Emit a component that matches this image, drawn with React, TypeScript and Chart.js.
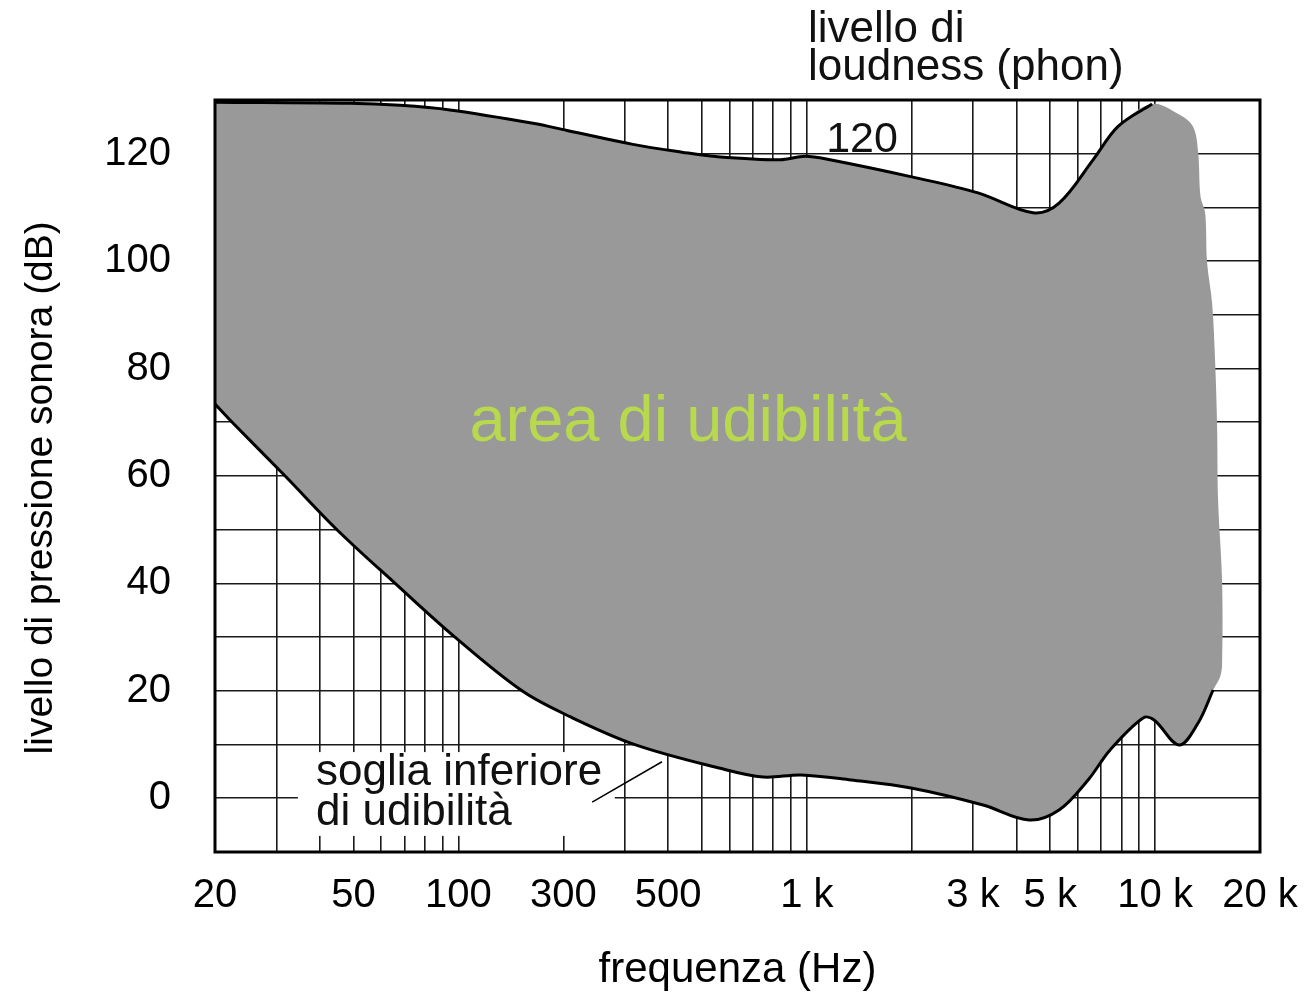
import React, { useEffect, useRef } from 'react';
import { Chart, registerables } from 'chart.js';

Chart.register(...registerables);

// ---- data (frequency in Hz, level in dB) ----
// 120 phon equal-loudness curve (upper limit)
const upperFreq = [20, 48.8, 68, 94.5, 163.7, 205, 317, 438, 549, 838, 989, 1166, 2046, 3102, 4464, 5300, 6634, 7828, 9800];
const upperDb = [129.6, 129.4, 129, 128.15, 125.67, 124.33, 121.74, 120.29, 119.47, 118.88, 119.53, 118.88, 115.55, 112.7, 109, 110.8, 118.85, 125.1, 129.27];

// soglia inferiore di udibilità (threshold of hearing)
const lowerFreq = [20, 22.4, 31.8, 44.8, 65.8, 97.7, 152.2, 209, 321, 564, 749, 963, 1340, 1992, 3206, 4346, 5300, 6420, 7424, 9234, 9932, 11714, 13284, 14670];
const lowerDb = [73.4, 70, 60, 50, 40, 30, 20, 15.2, 10, 5.58, 3.96, 4.34, 3.41, 1.92, -1.25, -4.04, -2.18, 3.41, 8.99, 14.95, 14.58, 9.92, 14.02, 20.16];

// right-hand boundary of the grey "area di udibilità" (from the 10k apex downwards)
const edgeFreq = [11792, 12854, 13284, 13500, 13916, 14094, 14572, 14864, 15060, 15160, 15566, 15566, 15360];
const edgeDb = [127.2, 125, 120.3, 112, 109, 99.8, 92.2, 81.4, 69.3, 55.5, 40.3, 25, 22.6];

// axis grid / ticks
const xGridFreqs = [20, 30, 40, 50, 60, 70, 80, 90, 100, 200, 300, 400, 500, 600, 700, 800, 900, 1000, 2000, 3000, 4000, 5000, 6000, 7000, 8000, 9000, 10000, 20000];
const xTickValues = [20, 50, 100, 200, 400, 1000, 3000, 5000, 10000, 20000];
const xTickLabels = ['20', '50', '100', '300', '500', '1 k', '3 k', '5 k', '10 k', '20 k'];
const yTickValues = [0, 20, 40, 60, 80, 100, 120];

const xTitle = 'frequenza (Hz)';
const yTitle = 'livello di pressione sonora (dB)';

// annotations (anchored in data units)
const notes = [
  { text: 'livello di', f: 1008, db: 140.8, align: 'left', size: 44, color: '#111' },
  { text: 'loudness (phon)', f: 1008, db: 133.7, align: 'left', size: 44, color: '#111' },
  { text: '120', f: 1441, db: 120.3, align: 'center', size: 43, color: '#111' },
  { text: 'area di udibilità', f: 456, db: 66.5, align: 'center', size: 65, color: '#b8d84e' },
  { text: 'soglia inferiore', f: 39, db: 2.5, align: 'left', size: 44, color: '#111' },
  { text: 'di udibilità', f: 39, db: -5, align: 'left', size: 44, color: '#111' },
];
const textBoxFreq = [34.6, 281];
const textBoxDb = [8.6, -7];
const leaderFreq = [242, 384];
const leaderDb = [-0.7, 6.8];
const yTitleDb = 57.8;

const FONT = "'Liberation Sans', Arial, Helvetica, sans-serif";
const GRID = '#1a1a1a';

const decorPlugin = {
  id: 'decor',
  beforeDatasetsDraw(chart: any) {
    const { ctx, scales } = chart;
    const x = scales.x, y = scales.y;
    const x0 = x.getPixelForValue(textBoxFreq[0]);
    const x1 = x.getPixelForValue(textBoxFreq[1]);
    const y0 = y.getPixelForValue(textBoxDb[0]);
    const y1 = y.getPixelForValue(textBoxDb[1]);
    ctx.save();
    ctx.fillStyle = '#ffffff';
    ctx.fillRect(x0, y0, x1 - x0, y1 - y0);
    ctx.restore();
  },
  afterDatasetsDraw(chart: any) {
    const { ctx, scales, chartArea } = chart;
    const x = scales.x, y = scales.y;
    ctx.save();
    // frame
    ctx.strokeStyle = '#000';
    ctx.lineWidth = 3;
    ctx.strokeRect(chartArea.left, chartArea.top, chartArea.right - chartArea.left, chartArea.bottom - chartArea.top);
    // leader line
    ctx.lineWidth = 1.5;
    ctx.beginPath();
    ctx.moveTo(x.getPixelForValue(leaderFreq[0]), y.getPixelForValue(leaderDb[0]));
    ctx.lineTo(x.getPixelForValue(leaderFreq[1]), y.getPixelForValue(leaderDb[1]));
    ctx.stroke();
    // texts
    ctx.textBaseline = 'alphabetic';
    for (const n of notes) {
      ctx.font = `${n.size}px ${FONT}`;
      ctx.fillStyle = n.color;
      ctx.textAlign = n.align as CanvasTextAlign;
      ctx.fillText(n.text, x.getPixelForValue(n.f), y.getPixelForValue(n.db));
    }
    // y axis title
    ctx.translate(y.left + 31, y.getPixelForValue(yTitleDb));
    ctx.rotate(-Math.PI / 2);
    ctx.font = `39px ${FONT}`;
    ctx.fillStyle = '#000';
    ctx.textAlign = 'center';
    ctx.textBaseline = 'middle';
    ctx.fillText(yTitle, 0, 0);
    ctx.restore();
  },
};

export default function App() {
  const ref = useRef<HTMLCanvasElement>(null);
  useEffect(() => {
    const canvas = ref.current;
    if (!canvas) return;
    const upper = upperFreq.map((f, i) => ({ x: f, y: upperDb[i] }));
    const lower = lowerFreq.map((f, i) => ({ x: f, y: lowerDb[i] }));
    const edge = edgeFreq.map((f, i) => ({ x: f, y: edgeDb[i] }));
    const area = [...upper, ...edge, ...lower.slice().reverse()];

    const chart = new Chart(canvas, {
      type: 'line',
      data: {
        datasets: [
          { label: '120 phon', data: upper, borderColor: '#000', borderWidth: 3, pointRadius: 0, fill: false, tension: 0.35 },
          { label: 'soglia inferiore di udibilità', data: lower, borderColor: '#000', borderWidth: 3, pointRadius: 0, fill: false, tension: 0.35 },
          { label: 'area di udibilità', data: area, borderColor: 'rgba(0,0,0,0)', borderWidth: 0, backgroundColor: '#999999', pointRadius: 0, fill: 'shape', tension: 0.35 },
        ],
      } as any,
      options: {
        responsive: false,
        animation: false,
        devicePixelRatio: 1,
        layout: { padding: { left: 10, right: 46, top: 100, bottom: 0 } },
        plugins: { legend: { display: false }, tooltip: { enabled: false } },
        scales: {
          x: {
            type: 'logarithmic',
            min: 20,
            max: 20000,
            afterBuildTicks: (s: any) => { s.ticks = xGridFreqs.map((v) => ({ value: v })); },
            afterFit: (s: any) => { s.height = 145; },
            grid: { color: GRID, lineWidth: 1.6, drawTicks: true, tickLength: 14, tickColor: 'rgba(0,0,0,0)' },
            border: { display: false },
            ticks: {
              autoSkip: false, maxRotation: 0, minRotation: 0, padding: 6, color: '#000',
              font: { family: FONT, size: 40 },
              callback: (v: any) => { const i = xTickValues.indexOf(Number(v)); return i >= 0 ? xTickLabels[i] : ''; },
            },
            title: { display: true, text: xTitle, color: '#000', font: { family: FONT, size: 42 }, padding: { top: 0, bottom: 1 } },
          },
          y: {
            type: 'linear',
            min: -10,
            max: 130,
            afterFit: (s: any) => { s.width = 205; },
            grid: { color: GRID, lineWidth: 1.6, drawTicks: false },
            border: { display: false },
            ticks: {
              stepSize: 10, padding: 44, color: '#000',
              font: { family: FONT, size: 40 },
              callback: (v: any) => (yTickValues.indexOf(Number(v)) >= 0 ? String(v) : ''),
            },
            title: { display: false, text: yTitle },
          },
        },
      } as any,
      plugins: [decorPlugin],
    });
    return () => chart.destroy();
  }, []);
  return (
    <div style={{ position: 'absolute', left: 0, top: 0, width: 1306, height: 997, background: '#fff' }}>
      <canvas ref={ref} width={1306} height={997} style={{ display: 'block' }} />
    </div>
  );
}
